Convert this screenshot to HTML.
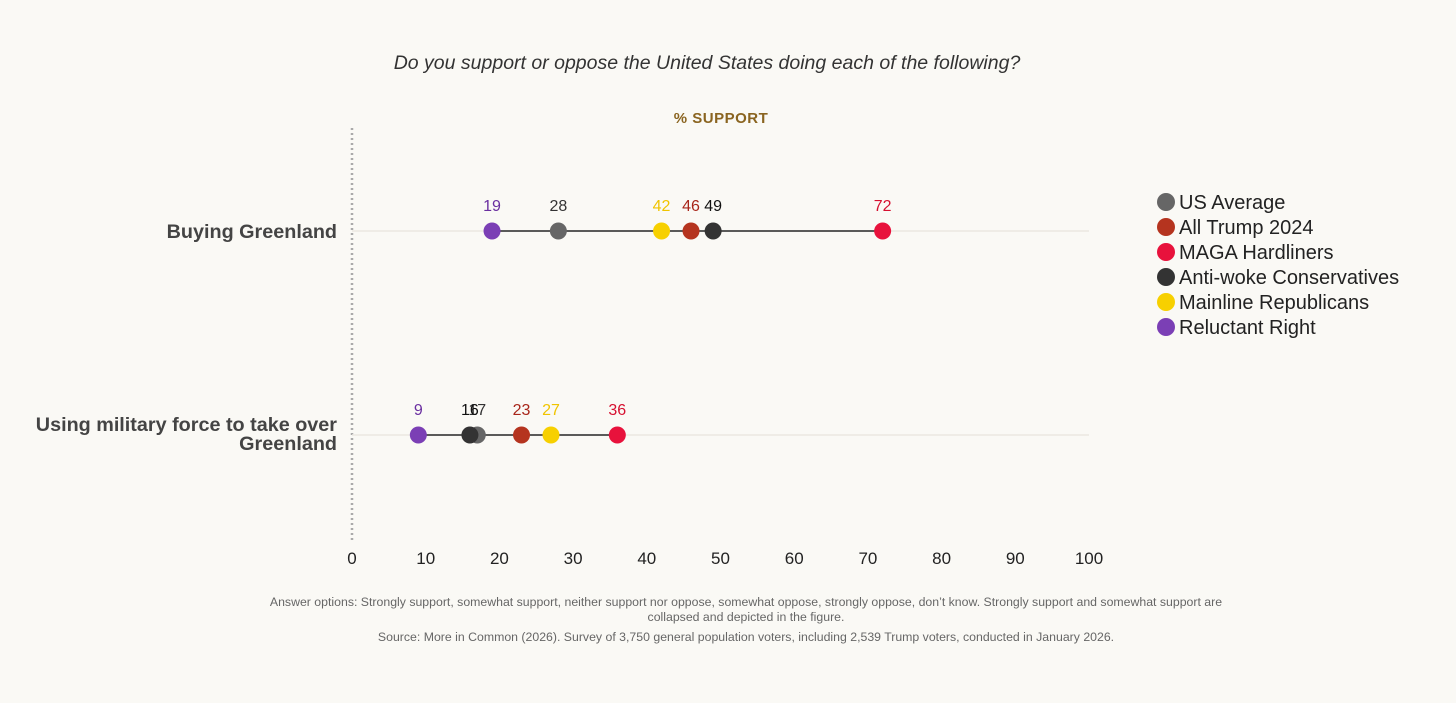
<!DOCTYPE html>
<html><head><meta charset="utf-8"><style>
body{margin:0;background:#faf9f5;font-family:"Liberation Sans",sans-serif;}
svg text{font-family:"Liberation Sans",sans-serif;}
</style></head><body>
<svg id="c" width="1456" height="698">
<rect width="1456" height="698" fill="#faf9f5"/>
<text x="707" y="69" text-anchor="middle" font-size="19.5" font-style="italic" fill="#333">Do you support or oppose the United States doing each of the following?</text>
<text x="721" y="123" text-anchor="middle" font-size="15" font-weight="bold" fill="#8a6420" letter-spacing="0.5">% SUPPORT</text>
<line x1="352" y1="128" x2="352" y2="540" stroke="#aaa" stroke-width="2.5" stroke-dasharray="2,3"/>
<g id="g"></g>
<text x="746" y="606" text-anchor="middle" font-size="12.3" fill="#666">Answer options: Strongly support, somewhat support, neither support nor oppose, somewhat oppose, strongly oppose, don’t know. Strongly support and somewhat support are</text>
<text x="746" y="621" text-anchor="middle" font-size="12.3" fill="#666">collapsed and depicted in the figure.</text>
<text x="746" y="641" text-anchor="middle" font-size="12.3" fill="#666">Source: More in Common (2026). Survey of 3,750 general population voters, including 2,539 Trump voters, conducted in January 2026.</text>
</svg>
<script>
const categories=["Buying Greenland","Using military force to take over Greenland"];
const seriesNames=["US Average","All Trump 2024","MAGA Hardliners","Anti-woke Conservatives","Mainline Republicans","Reluctant Right"];
const usAverage=[28,17];
const allTrump=[46,23];
const maga=[72,36];
const antiWoke=[49,16];
const mainline=[42,27];
const reluctant=[19,9];
const ticks=[0,10,20,30,40,50,60,70,80,90,100];
const series=[usAverage,allTrump,maga,antiWoke,mainline,reluctant];
const fills=["#666666","#b5341f","#e8123c","#333333","#f7d000","#7b3fb5"];
const labelCols=["#333333","#a8261a","#d61030","#111111","#f0c400","#6a2fa0"];
const NS="http://www.w3.org/2000/svg";
const g=document.getElementById('g');
const x=v=>352+v*7.37;
const rowY=[231,435];
function mk(t,a,txt){const e=document.createElementNS(NS,t);for(const k in a)e.setAttribute(k,a[k]);if(txt!==undefined)e.textContent=txt;g.appendChild(e);return e;}
ticks.forEach(t=>{const e=mk('text',{x:x(t),y:564,'text-anchor':'middle','font-size':17,fill:'#222'},t);

});
categories.forEach((c,i)=>{const y=rowY[i];
const gl=mk('line',{x1:352,x2:1089,y1:y,y2:y,stroke:'#ebe8e2','stroke-width':1.5});


const vals=series.map(s=>s[i]);
const ln=mk('line',{x1:x(Math.min(...vals)),x2:x(Math.max(...vals)),y1:y,y2:y,stroke:'#444','stroke-width':1.8});


const lines=c==="Buying Greenland"?[c]:["Using military force to take over","Greenland"];
lines.forEach((l,j)=>{const t=mk('text',{x:337,y:(lines.length===1?y+7:y-4+j*19),'text-anchor':'end','font-size':19.8,'font-weight':'bold',fill:'#444'},l);

});
series.forEach((s,k)=>{
const d=mk('circle',{cx:x(s[i]),cy:y,r:8.5,fill:fills[k]});


const lb=mk('text',{x:x(s[i]),y:y-20,'text-anchor':'middle','font-size':16,fill:labelCols[k]},s[i]);

});
});
seriesNames.forEach((n,k)=>{const y=202+k*25;
const d=mk('circle',{cx:1166,cy:y,r:9,fill:fills[k]});


const t=mk('text',{x:1179,y:y+7,'font-size':20,fill:'#222'},n);

});
</script>
</body></html>
